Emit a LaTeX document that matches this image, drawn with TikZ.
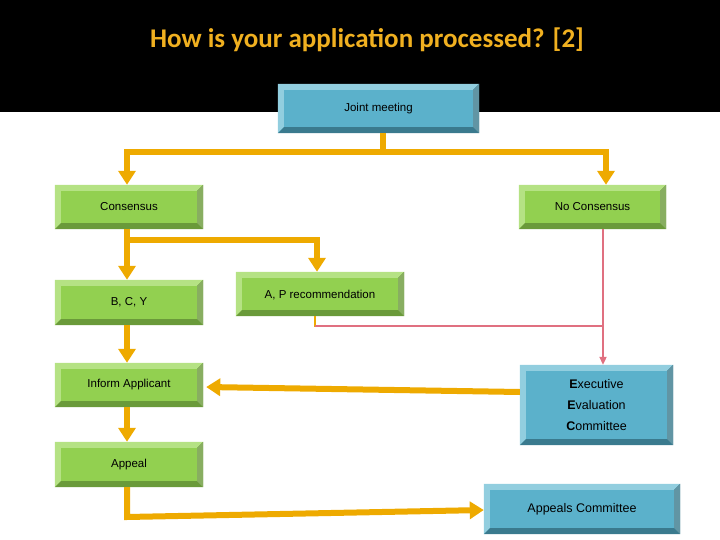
\documentclass[tikz,border=0pt]{standalone}
\usepackage{fontspec}
\setmainfont{Liberation Sans}
\newfontfamily\titlefont{Carlito}
\usetikzlibrary{arrows.meta}
\definecolor{gmain}{HTML}{92D050}\definecolor{glight}{HTML}{B5E284}\definecolor{gdark}{HTML}{6A9A3A}
\definecolor{bmain}{HTML}{5BB1CB}\definecolor{blight}{HTML}{92CEDF}\definecolor{bdark}{HTML}{3A7A8E}
\definecolor{arr}{HTML}{EEAA00}\definecolor{pinkl}{HTML}{E07080}\definecolor{ttl}{HTML}{F0B020}
\tikzset{
 box/.style={minimum width=#1, inner sep=0pt, font=\fontsize{11.5}{14}\selectfont, align=center},
 gbox/.style={box=#1, fill=gmain},
 bbox/.style={box=#1, fill=bmain},
 flow/.style={draw=arr, line width=6pt},
 flowa/.style={flow, -{Triangle[width=17pt,length=14pt]}},
 pflow/.style={draw=pinkl, line width=2pt},
}
\newcommand\bev[3]{%
 \fill[#2] (#1.south west) -- (#1.north west) -- (#1.north east) -- ([shift={(-6,6)}]#1.north east) -- ([shift={(6,6)}]#1.north west) -- ([shift={(6,-6)}]#1.south west) -- cycle;
 \fill[#3] (#1.south west) -- (#1.south east) -- (#1.north east) -- ([shift={(-6,6)}]#1.north east) -- ([shift={(-6,-6)}]#1.south east) -- ([shift={(6,-6)}]#1.south west) -- cycle;
 \fill[#3!80!white] ([shift={(-6,6)}]#1.north east) -- (#1.north east) -- (#1.south east) -- ([shift={(-6,-6)}]#1.south east) -- cycle;
}
\begin{document}
\begin{tikzpicture}[x=1pt,y=-1pt]
\useasboundingbox (0,0) rectangle (720,540);
\fill[black] (0,0) rectangle (720,112);
\node[font=\titlefont\bfseries\fontsize{27}{30}\selectfont, text=ttl] (title) at (367,40) {How is your application processed? [2]};
\node[bbox=201pt, minimum height=49pt] (jm) at (378.5,108.5) {};
\node[gbox=148pt, minimum height=44pt] (cons) at (129,207) {};
\node[gbox=147pt, minimum height=44pt] (nocons) at (592.5,207) {};
\node[gbox=148pt, minimum height=45pt] (bcy) at (129,302.5) {};
\node[gbox=168pt, minimum height=44pt] (ap) at (320,294) {};
\node[gbox=148pt, minimum height=44pt] (inf) at (129,385) {};
\node[bbox=153pt, minimum height=80pt] (eec) at (596.5,405) {};
\node[gbox=148pt, minimum height=45pt] (appeal) at (129,464.5) {};
\node[bbox=196pt, minimum height=50pt] (apc) at (582,509) {};
\bev{jm}{blight}{bdark}\bev{cons}{glight}{gdark}\bev{nocons}{glight}{gdark}
\bev{bcy}{glight}{gdark}\bev{ap}{glight}{gdark}\bev{inf}{glight}{gdark}
\bev{eec}{blight}{bdark}\bev{appeal}{glight}{gdark}\bev{apc}{blight}{bdark}
\node[box=0pt] at (jm) {Joint meeting};
\node[box=0pt] at (cons) {Consensus};
\node[box=0pt] at (nocons) {No Consensus};
\node[box=0pt] at (bcy) {B, C, Y};
\node[box=0pt] at ([yshift=-1]ap) {A, P recommendation};
\node[box=0pt] at (inf) {Inform Applicant};
\node[box=0pt, font=\fontsize{12.5}{21}\selectfont] at (eec) {\textbf{E}xecutive\\\textbf{E}valuation\\\textbf{C}ommittee};
\node[box=0pt] at (appeal) {Appeal};
\node[box=0pt, font=\fontsize{12.5}{15}\selectfont] at (apc) {Appeals Committee};
% connectors
\coordinate (j1) at (383,152); \coordinate (jl) at (127,152); \coordinate (jr) at (606,152);
\draw[flow] (jm.south -| j1) -- (j1);
\draw[flowa] ([xshift=3]jr) -- (jl) -- (jl |- cons.north);
\draw[flowa] (jl -| jr) -- (jr |- nocons.north);
\coordinate (c1) at (127,240); \coordinate (c2) at (317,240);
\draw[flowa] (cons.south -| c1) -- (c1 |- bcy.north);
\draw[flowa] (c1) -- (c2) -- (c2 |- ap.north);
\draw[flowa] (bcy.south -| c1) -- (c1 |- inf.north);
\draw[flowa] (inf.south -| c1) -- (c1 |- appeal.north);
\draw[flowa] ([yshift=13]eec.west) -- ([xshift=3,yshift=-2]inf.east);
\coordinate (a1) at (127,517);
\draw[flowa] (appeal.south -| a1) -- (a1) -- ([yshift=-1]apc.west);
\coordinate (p1) at (315,326); \coordinate (p2) at (603,326);
\draw[draw=arr, line width=2pt] (ap.south -| p1) -- ([yshift=-1]p1);
\draw[pflow] (p1) -- (p2);
\draw[pflow, -{Triangle[width=7pt,length=8pt]}] (nocons.south -| p2) -- (p2 |- eec.north);
\end{tikzpicture}
\end{document}
